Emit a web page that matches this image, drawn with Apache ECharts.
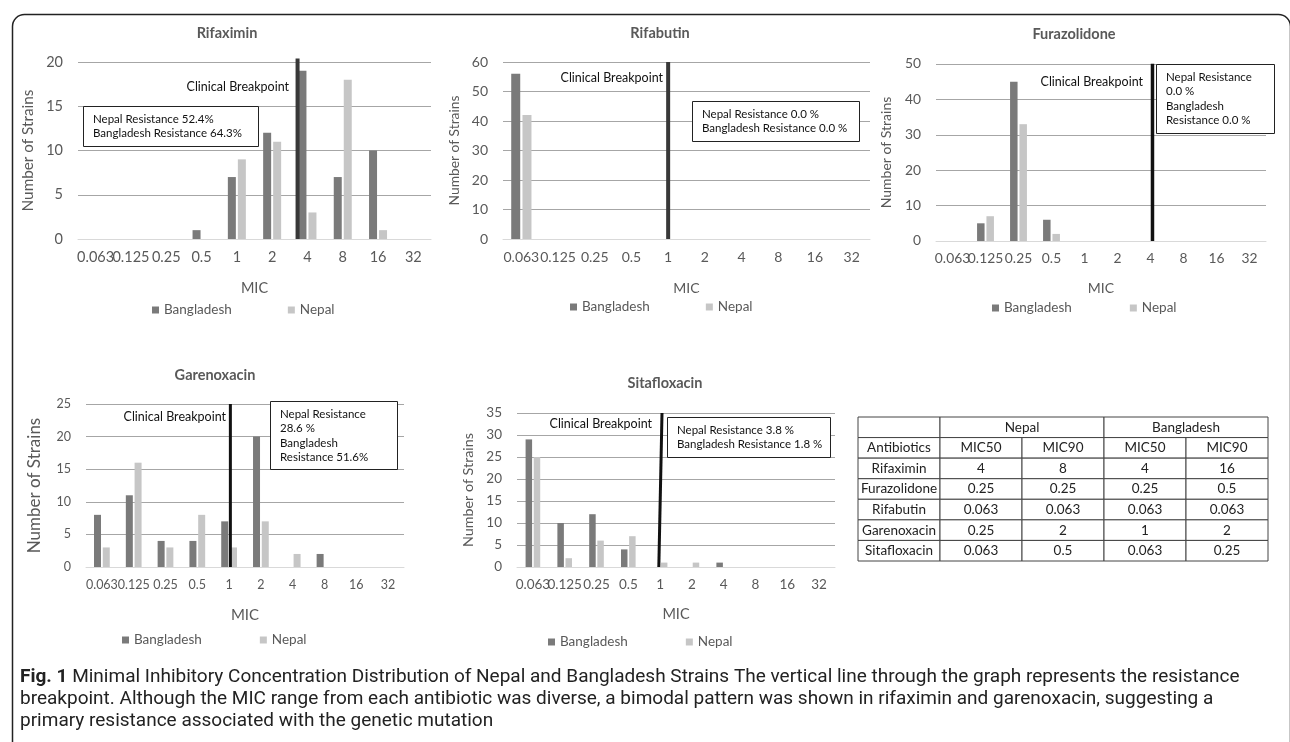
<!DOCTYPE html>
<html>
<head>
<meta charset="utf-8">
<script src="https://cdn.jsdelivr.net/npm/echarts@6/dist/echarts.min.js"></script>
<style>
  html, body { margin: 0; padding: 0; background: #fff; }
  #myChart { width: 1290px; height: 742px; }
</style>
</head>
<body>
<div id="myChart"></div>
<script>
var myChart = echarts.init(document.getElementById('myChart'));

// MIC levels (x axis of every panel)
var micLevels = ['0.063', '0.125', '0.25', '0.5', '1', '2', '4', '8', '16', '32'];

// number of strains per MIC level
var rifaximinBangladesh = [0, 0, 0, 1, 7, 12, 19, 7, 10, 0];
var rifaximinNepal = [0, 0, 0, 0, 9, 11, 3, 18, 1, 0];
var rifabutinBangladesh = [56, 0, 0, 0, 0, 0, 0, 0, 0, 0];
var rifabutinNepal = [42, 0, 0, 0, 0, 0, 0, 0, 0, 0];
var furazolidoneBangladesh = [0, 5, 45, 6, 0, 0, 0, 0, 0, 0];
var furazolidoneNepal = [0, 7, 33, 2, 0, 0, 0, 0, 0, 0];
var garenoxacinBangladesh = [8, 11, 4, 4, 7, 20, 0, 2, 0, 0];
var garenoxacinNepal = [3, 16, 3, 8, 3, 7, 2, 0, 0, 0];
var sitafloxacinBangladesh = [29, 10, 12, 4, 0, 0, 1, 0, 0, 0];
var sitafloxacinNepal = [25, 2, 6, 7, 1, 1, 0, 0, 0, 0];

var panelTitles = ['Rifaximin', 'Rifabutin', 'Furazolidone', 'Garenoxacin', 'Sitafloxacin'];
var yMax = [20, 60, 50, 25, 35];
var yStep = [5, 10, 10, 5, 5];

// clinical breakpoint, in category index units (top end / bottom end)
var breakpointTopX = [5.72, 4, 6.06, 4.04, 4.06];
var breakpointBottomX = [5.72, 4, 6.06, 4.04, 3.96];
var breakpointTopY = [20.4, 60, 50.1, 25, 35];

var resistanceText = [
    ['Nepal Resistance 52.4%', 'Bangladesh Resistance 64.3%'],
    ['Nepal Resistance 0.0 %', 'Bangladesh Resistance 0.0 %'],
    ['Nepal Resistance', '0.0 %', 'Bangladesh', 'Resistance 0.0 %'],
    ['Nepal Resistance', '28.6 %', 'Bangladesh', 'Resistance 51.6%'],
    ['Nepal Resistance 3.8 %', 'Bangladesh Resistance 1.8 %']
];

// MIC50 / MIC90 table
var tableDrugs = ['Rifaximin', 'Furazolidone', 'Rifabutin', 'Garenoxacin', 'Sitafloxacin'];
var nepalMic50 = ['4', '0.25', '0.063', '0.25', '0.063'];
var nepalMic90 = ['8', '0.25', '0.063', '2', '0.5'];
var bangladeshMic50 = ['4', '0.25', '0.063', '1', '0.063'];
var bangladeshMic90 = ['16', '0.5', '0.063', '2', '0.25'];

var bdSeries = [rifaximinBangladesh, rifabutinBangladesh, furazolidoneBangladesh, garenoxacinBangladesh, sitafloxacinBangladesh];
var npSeries = [rifaximinNepal, rifabutinNepal, furazolidoneNepal, garenoxacinNepal, sitafloxacinNepal];

var FONT = 'Lato, "Noto Sans", sans-serif';
var GRAY = '#595959';

// panel layout (pixels)
var layouts = [
    {grid: [78, 62, 353, 177], barW: 8, font: 14.5, nameFont: 15.3, xName: 14.5, yGap: 42, xGap: 42, title: [227, 35],
        legend: [152, 311, 56], bpW: 4, bpColor: '#383838', cb: [289, 88], box: [83, 106, 175, 40]},
    {grid: [503, 62, 367, 177], barW: 9, font: 14, nameFont: 13.8, xName: 14, yGap: 41, xGap: 42, title: [660, 35],
        legend: [570, 308, 56], bpW: 4, bpColor: '#383838', cb: [663, 79], box: [692, 101, 167, 40]},
    {grid: [936, 64, 330, 177], barW: 7.5, font: 13.8, nameFont: 14, xName: 14, yGap: 43, xGap: 40, title: [1074, 36],
        legend: [992, 309, 58], bpW: 3.5, bpColor: '#111', cb: [1143, 83], box: [1156, 64, 118, 69]},
    {grid: [86, 404, 318, 163], barW: 7, font: 12.5, nameFont: 17, xName: 15, yGap: 43, xGap: 41, title: [215, 377],
        legend: [122, 641, 58], bpW: 3, bpColor: '#111', cb: [226, 418], box: [270, 401, 127, 68]},
    {grid: [517, 413, 318, 154], barW: 6.5, font: 13.5, nameFont: 14.3, xName: 14.5, yGap: 42, xGap: 40, title: [665, 385],
        legend: [548, 643, 58], bpW: 3, bpColor: '#111', cb: [652, 425], box: [667, 417, 163, 40]}
];

var grids = [], xAxes = [], yAxes = [], series = [], titles = [], legends = [], graphics = [];

for (var i = 0; i < 5; i++) {
    var L = layouts[i];
    grids.push({left: L.grid[0], top: L.grid[1], width: L.grid[2], height: L.grid[3]});
    xAxes.push({
        type: 'category', gridIndex: i, data: micLevels,
        name: 'MIC', nameLocation: 'middle', nameGap: L.xGap,
        nameTextStyle: {color: GRAY, fontSize: L.xName, fontFamily: FONT},
        axisLine: {show: true, lineStyle: {color: '#d9d9d9'}},
        axisTick: {show: false},
        axisLabel: {interval: 0, margin: 11, color: GRAY, fontSize: L.font, fontFamily: FONT}
    });
    yAxes.push({
        type: 'value', gridIndex: i, min: 0, max: yMax[i], interval: yStep[i],
        name: 'Number of Strains', nameLocation: 'middle', nameGap: L.yGap, nameRotate: 90,
        nameTextStyle: {color: GRAY, fontSize: L.nameFont, fontFamily: FONT},
        axisLine: {show: false}, axisTick: {show: false},
        axisLabel: {margin: 15, color: GRAY, fontSize: L.font, fontFamily: FONT},
        splitLine: {show: true, showMinLine: false, lineStyle: {color: '#a6a6a6', width: 1}}
    });
    titles.push({
        text: panelTitles[i], left: L.title[0], top: L.title[1] - 9, textAlign: 'center', padding: 0,
        textStyle: {color: GRAY, fontSize: 14.5, fontWeight: 'bold', fontFamily: FONT}
    });
    legends.push({
        data: ['Bangladesh', 'Nepal'], left: L.legend[0], top: L.legend[1] - 8, padding: 0,
        itemWidth: 7, itemHeight: 7, itemGap: L.legend[2], icon: 'rect',
        textStyle: {color: GRAY, fontSize: 13.5, fontFamily: FONT}
    });
    series.push({
        name: 'Bangladesh', type: 'bar', xAxisIndex: i, yAxisIndex: i, data: bdSeries[i],
        barWidth: L.barW, barGap: '25%', itemStyle: {color: '#7a7a7a'}, animation: false
    });
    series.push({
        name: 'Nepal', type: 'bar', xAxisIndex: i, yAxisIndex: i, data: npSeries[i],
        barWidth: L.barW, barGap: '25%', itemStyle: {color: '#c6c6c6'}, animation: false
    });

    // annotation text
    graphics.push({
        type: 'text', right: 1290 - L.cb[0], top: L.cb[1] - 8,
        style: {text: 'Clinical Breakpoint', fill: '#111', font: '12.5px ' + FONT}
    });
    graphics.push({
        type: 'rect', left: L.box[0], top: L.box[1],
        shape: {width: L.box[2], height: L.box[3]},
        style: {fill: '#fff', stroke: '#222', lineWidth: 1}, z: 10
    });
    graphics.push({
        type: 'text', left: L.box[0] + 10, top: L.box[1] + 6,
        style: {text: resistanceText[i].join('\n'), fill: '#111', font: '11.5px ' + FONT, lineHeight: 14.4}, z: 11
    });
}

// hidden value x axes used to place the breakpoint lines
for (var k = 0; k < 5; k++) {
    xAxes.push({type: 'value', gridIndex: k, min: -0.5, max: 9.5, show: false});
    series.push({
        name: 'Breakpoint', type: 'line', xAxisIndex: 5 + k, yAxisIndex: k,
        data: [[breakpointTopX[k], breakpointTopY[k]], [breakpointBottomX[k], 0]],
        symbol: 'none', clip: false, silent: true, z: 5, animation: false,
        lineStyle: {color: layouts[k].bpColor, width: layouts[k].bpW}
    });
}

// table drawn as a custom series on its own grid
var tableCells = [
    {c: 0, r: 0, s: 1, t: ''}, {c: 1, r: 0, s: 2, t: 'Nepal'}, {c: 3, r: 0, s: 2, t: 'Bangladesh'},
    {c: 0, r: 1, s: 1, t: 'Antibiotics'}, {c: 1, r: 1, s: 1, t: 'MIC50'}, {c: 2, r: 1, s: 1, t: 'MIC90'},
    {c: 3, r: 1, s: 1, t: 'MIC50'}, {c: 4, r: 1, s: 1, t: 'MIC90'}
];
for (var d = 0; d < tableDrugs.length; d++) {
    var row = [tableDrugs[d], nepalMic50[d], nepalMic90[d], bangladeshMic50[d], bangladeshMic90[d]];
    for (var c = 0; c < 5; c++) tableCells.push({c: c, r: d + 2, s: 1, t: row[c]});
}
grids.push({left: 858, top: 417, width: 410, height: 144});
xAxes.push({type: 'value', gridIndex: 5, min: 0, max: 5, show: false});
yAxes.push({type: 'value', gridIndex: 5, min: 0, max: 7, inverse: true, show: false});
series.push({
    type: 'custom', xAxisIndex: 10, yAxisIndex: 5, silent: true, animation: false,
    data: tableCells.map(function (cell) { return [cell.c, cell.r, cell.s]; }),
    renderItem: function (params, api) {
        var p0 = api.coord([api.value(0), api.value(1)]);
        var p1 = api.coord([api.value(0) + api.value(2), api.value(1) + 1]);
        return {
            type: 'group',
            children: [
                {type: 'rect', shape: {x: p0[0], y: p0[1], width: p1[0] - p0[0], height: p1[1] - p0[1]},
                    style: {fill: '#fff', stroke: '#444', lineWidth: 1}},
                {type: 'text', x: (p0[0] + p1[0]) / 2, y: (p0[1] + p1[1]) / 2,
                    style: {text: tableCells[params.dataIndex].t, fill: '#222', font: '13.5px ' + FONT,
                        align: 'center', verticalAlign: 'middle'}}
            ]
        };
    }
});

// caption
titles.push({
    left: 20, top: 666, padding: 0,
    text: '{b|Fig. 1} Minimal Inhibitory Concentration Distribution of Nepal and Bangladesh Strains The vertical line through the graph represents the resistance\n' +
        'breakpoint. Although the MIC range from each antibiotic was diverse, a bimodal pattern was shown in rifaximin and garenoxacin, suggesting a\n' +
        'primary resistance associated with the genetic mutation',
    textStyle: {
        color: '#222', fontSize: 19, fontFamily: 'Roboto, sans-serif', fontWeight: 'normal', lineHeight: 22,
        rich: {b: {fontWeight: 'bold', fontSize: 19, fontFamily: 'Roboto, sans-serif', color: '#222', lineHeight: 22}}
    }
});

// outer frame
graphics.unshift({
    type: 'rect', left: 10, top: 12, shape: {width: 1278, height: 760, r: 12},
    style: {fill: 'none', stroke: '#222', lineWidth: 1.5}, z: -1, silent: true
});

myChart.setOption({
    animation: false,
    title: titles,
    legend: legends,
    grid: grids,
    xAxis: xAxes,
    yAxis: yAxes,
    series: series,
    graphic: graphics
});
window.onresize = myChart.resize;
</script>
</body>
</html>
